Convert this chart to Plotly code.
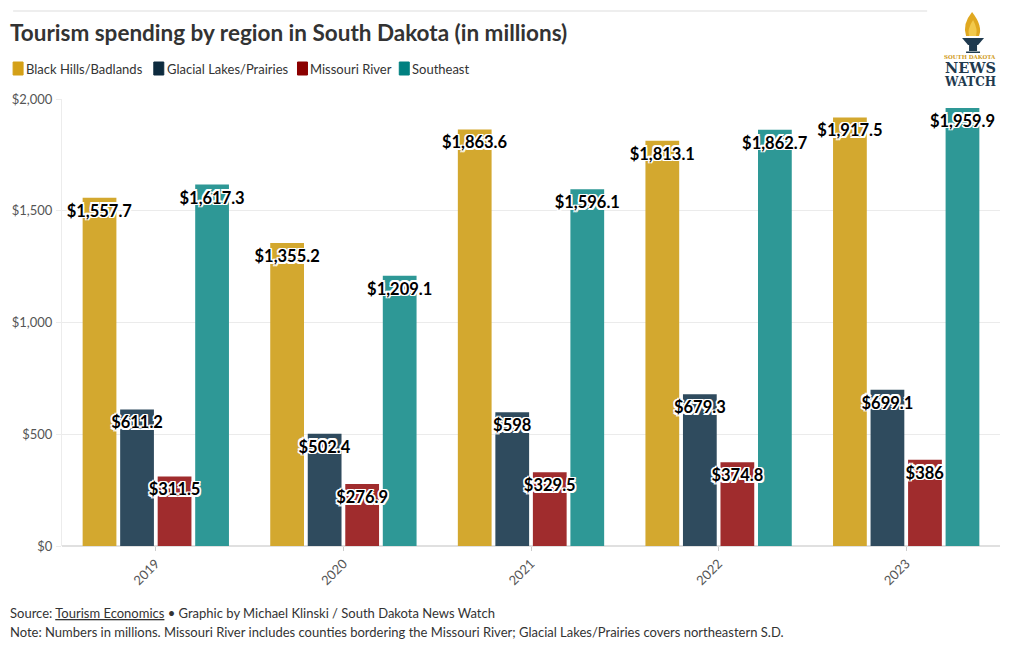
import plotly.graph_objects as go

years = ["2019", "2020", "2021", "2022", "2023"]
series_names = ["Black Hills/Badlands", "Glacial Lakes/Prairies", "Missouri River", "Southeast"]
black_hills = [1557.7, 1355.2, 1863.6, 1813.1, 1917.5]
glacial_lakes = [611.2, 502.4, 598, 679.3, 699.1]
missouri_river = [311.5, 276.9, 329.5, 374.8, 386]
southeast = [1617.3, 1209.1, 1596.1, 1862.7, 1959.9]
bar_colors = ["#D3A82F", "#2F4B5E", "#A02C2D", "#2E9896"]
legend_colors = ["#D4A017", "#0D2B3E", "#8B0000", "#008080"]
y_ticks = [0, 500, 1000, 1500, 2000]
y_tick_labels = ["$0", "$500", "$1,000", "$1,500", "$2,000"]

FONT = "Lato, 'Open Sans', sans-serif"
W, H = 1020, 650
L, R, T, B = 60, 20, 99, 104
PW, PH = W - L - R, H - T - B


def px(x):
    return (x - L) / PW


def py(y):
    return (H - B - y) / PH


def fmt(v):
    s = f"{v:,.1f}"
    if s.endswith(".0"):
        s = s[:-2]
    return "$" + s


halo = ("-1.5px -1.5px 0 #fff, 1.5px -1.5px 0 #fff, -1.5px 1.5px 0 #fff, 1.5px 1.5px 0 #fff, "
        "0 -1.5px 0 #fff, 0 1.5px 0 #fff, -1.5px 0 0 #fff, 1.5px 0 0 #fff")

fig = go.Figure()
all_series = [black_hills, glacial_lakes, missouri_river, southeast]
# visible bars
for i, (name, vals, col) in enumerate(zip(series_names, all_series, bar_colors)):
    fig.add_trace(go.Bar(
        x=years, y=vals, name=name, marker=dict(color=col, line=dict(width=0)),
        offsetgroup=str(i), showlegend=False,
        hovertemplate=name + ": %{y}<extra></extra>",
    ))
# transparent bars carrying the value labels, drawn on top of all bars
for i, (name, vals) in enumerate(zip(series_names, all_series)):
    fig.add_trace(go.Bar(
        x=years, y=vals, name=name + " labels",
        marker=dict(color="rgba(0,0,0,0)", line=dict(width=0)),
        offsetgroup=str(i), showlegend=False, hoverinfo="skip",
        text=[fmt(v) for v in vals], textposition="inside", insidetextanchor="end",
        constraintext="none", textangle=0, cliponaxis=False,
        insidetextfont=dict(family=FONT, size=16.5, color="#000", weight="bold", shadow=halo),
    ))

fig.update_layout(
    width=W, height=H,
    paper_bgcolor="white", plot_bgcolor="white",
    font=dict(family=FONT, size=13, color="#333"),
    margin=dict(l=L, r=R, t=T, b=B),
    barmode="group", bargap=0.2, bargroupgap=0.1,
    title=dict(text="<b>Tourism spending by region in South Dakota (in millions)</b>",
               x=10 / W, xanchor="left", y=1 - 33 / H, yanchor="middle",
               font=dict(size=22.5, color="#333", family=FONT)),
    xaxis=dict(type="category", tickangle=-45, ticks="outside", ticklen=4,
               tickcolor="#ccc", showgrid=False, showline=False,
               tickfont=dict(size=13, color="#555"), zeroline=False),
    yaxis=dict(range=[0, 2000], tickvals=y_ticks, ticktext=y_tick_labels,
               showgrid=True, gridcolor="#ebebeb", zeroline=True, zerolinecolor="#e0e0e0",
               showline=True, linecolor="#ececec", linewidth=1,
               ticks="outside", ticklen=5, tickcolor="#ececec",
               tickfont=dict(size=13, color="#555"), ticklabelstandoff=1),
    showlegend=False,
)

# top rule
fig.add_shape(type="line", xref="paper", yref="paper", x0=px(11), x1=px(927),
              y0=py(11), y1=py(11), line=dict(color="#ddd", width=1))

# legend built from swatches + labels
legend_x = [11, 152, 296, 398]
for name, lcol, lx in zip(series_names, legend_colors, legend_x):
    fig.add_shape(type="rect", xref="paper", yref="paper", x0=px(lx), x1=px(lx + 10),
                  y0=py(75), y1=py(62), fillcolor=lcol, line=dict(color=lcol, width=1))
    fig.add_annotation(xref="paper", yref="paper", x=px(lx + 11), xanchor="left",
                       y=py(68.5), yanchor="middle", text=name, showarrow=False,
                       font=dict(size=13, color="#333"))

# logo approximation
gold, navy = "#E0A820", "#1F3A4F"
flame = (f"M {px(972)},{py(12)} Q {px(962)},{py(24)} {px(966)},{py(36)} "
         f"L {px(979)},{py(36)} Q {px(983)},{py(26)} {px(972)},{py(12)} Z")
fig.add_shape(type="path", xref="paper", yref="paper", path=flame,
              fillcolor=gold, line=dict(color=gold, width=0))
inner = (f"M {px(973)},{py(20)} Q {px(967)},{py(29)} {px(969)},{py(36)} "
         f"L {px(976)},{py(36)} Q {px(978)},{py(29)} {px(973)},{py(20)} Z")
fig.add_shape(type="path", xref="paper", yref="paper", path=inner,
              fillcolor="#F2C94C", line=dict(width=0))
cup = (f"M {px(962)},{py(38)} L {px(984)},{py(38)} L {px(978)},{py(45)} "
       f"L {px(968)},{py(45)} Z")
fig.add_shape(type="path", xref="paper", yref="paper", path=cup,
              fillcolor=navy, line=dict(color=navy, width=0))
fig.add_shape(type="rect", xref="paper", yref="paper", x0=px(969), x1=px(977),
              y0=py(51), y1=py(45), fillcolor=navy, line=dict(width=0))
fig.add_shape(type="rect", xref="paper", yref="paper", x0=px(966), x1=px(980),
              y0=py(53), y1=py(51.5), fillcolor=navy, line=dict(width=0))
fig.add_annotation(xref="paper", yref="paper", x=px(970), y=py(57),
                   xanchor="center", yanchor="middle",
                   text="<b>SOUTH DAKOTA</b>", showarrow=False,
                   font=dict(family="DejaVu Serif", size=5.5, color="#D09A18"))
fig.add_annotation(xref="paper", yref="paper", x=px(970), y=py(67.5),
                   xanchor="center", yanchor="middle",
                   text="<b>NEWS</b>", showarrow=False,
                   font=dict(family="DejaVu Serif", size=14.5, color=navy))
fig.add_annotation(xref="paper", yref="paper", x=px(970), y=py(81.5),
                   xanchor="center", yanchor="middle",
                   text="<b>WATCH</b>", showarrow=False,
                   font=dict(family="DejaVu Serif", size=12, color=navy))

fig.add_annotation(xref="paper", yref="paper", x=px(6), xanchor="left",
                   y=py(613), yanchor="middle", showarrow=False, align="left",
                   text="Source: <u>Tourism Economics</u> • Graphic by Michael Klinski / South Dakota News Watch",
                   font=dict(size=13, color="#333"))
fig.add_annotation(xref="paper", yref="paper", x=px(6), xanchor="left",
                   y=py(632), yanchor="middle", showarrow=False, align="left",
                   text="Note: Numbers in millions. Missouri River includes counties bordering the Missouri River; Glacial Lakes/Prairies covers northeastern S.D.",
                   font=dict(size=13, color="#333"))

fig.write_html("out.html", config={"displayModeBar": False},
               post_script="document.body.style.margin='0';")
